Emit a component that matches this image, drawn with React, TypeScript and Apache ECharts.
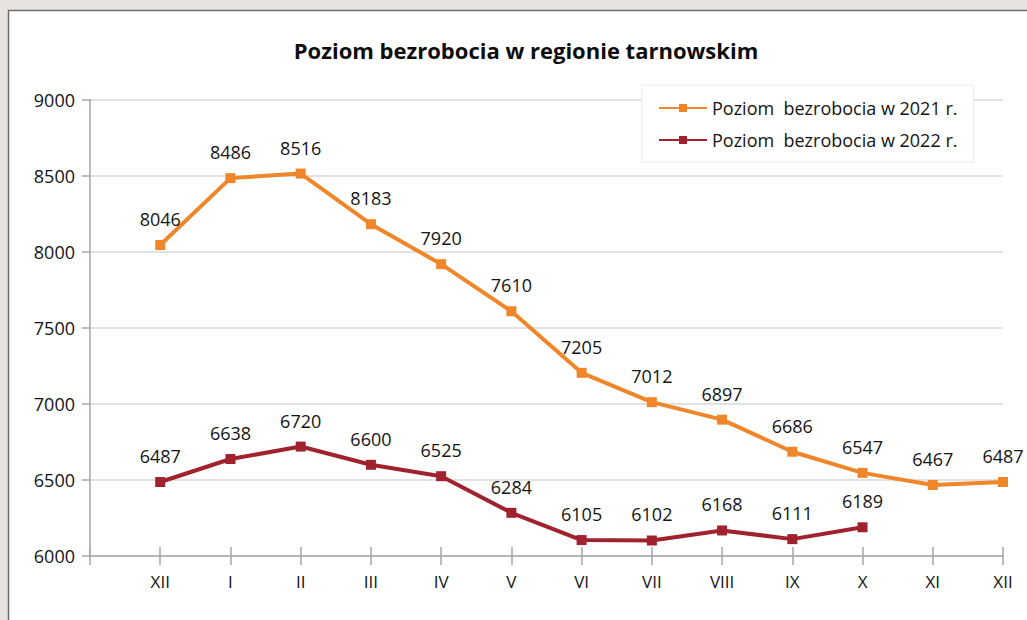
import React, { useEffect, useRef } from "react";
import * as echarts from "echarts";

const categories = ["", "XII", "I", "II", "III", "IV", "V", "VI", "VII", "VIII", "IX", "X", "XI", "XII"];
const values2021 = [null, 8046, 8486, 8516, 8183, 7920, 7610, 7205, 7012, 6897, 6686, 6547, 6467, 6487];
const values2022 = [null, 6487, 6638, 6720, 6600, 6525, 6284, 6105, 6102, 6168, 6111, 6189, null, null];
const seriesNames = ["Poziom  bezrobocia w 2021 r.", "Poziom  bezrobocia w 2022 r."];
const titleText = "Poziom bezrobocia w regionie tarnowskim";

const FONT = "'Open Sans', sans-serif";

export default function App() {
  const ref = useRef<HTMLDivElement>(null);
  useEffect(() => {
    if (!ref.current) return;
    const chart = echarts.init(ref.current, null, { renderer: "svg" });
    const labelStyle = {
      show: true,
      position: "top" as const,
      distance: 12,
      fontFamily: FONT,
      fontSize: 18,
      color: "#141414",
    };
    chart.setOption({
      animation: false,
      backgroundColor: "#e7e4e0",
      textStyle: { fontFamily: FONT },
      graphic: [
        {
          type: "rect",
          z: -10,
          silent: true,
          shape: { x: 8.5, y: 10.5, width: 1040, height: 640 },
          style: { fill: "#ffffff", stroke: "#6b6b6b", lineWidth: 1.5 },
        },
      ],
      title: {
        text: titleText,
        left: 521,
        textAlign: "center",
        top: 34,
        textStyle: { fontFamily: FONT, fontSize: 22, fontWeight: "bold", color: "#0d0d0d" },
      },
      legend: {
        orient: "vertical",
        left: 642,
        top: 85,
        padding: [14, 16, 13, 16],
        itemGap: 14,
        itemWidth: 48,
        itemHeight: 10,
        backgroundColor: "#ffffff",
        borderColor: "#ececec",
        borderWidth: 1,
        textStyle: { fontFamily: FONT, fontSize: 18, color: "#141414" },
        data: seriesNames,
      },
      grid: { left: 90, right: 24, top: 100, bottom: 64, containLabel: false },
      xAxis: [
        {
          type: "category",
          data: categories,
          boundaryGap: false,
          axisLine: { lineStyle: { color: "#a6a6a6", width: 1.5 } },
          axisTick: { show: true, inside: false, length: 9, lineStyle: { color: "#a6a6a6", width: 1.5 } },
          axisLabel: { margin: 17, fontFamily: FONT, fontSize: 17, color: "#141414" },
          splitLine: { show: false },
        },
        {
          type: "category",
          data: categories,
          position: "bottom",
          boundaryGap: false,
          axisLine: { show: false },
          axisTick: { show: true, inside: true, length: 9, lineStyle: { color: "#a6a6a6", width: 1.5 } },
          axisLabel: { show: false },
          splitLine: { show: false },
        },
      ],
      yAxis: {
        type: "value",
        min: 6000,
        max: 9000,
        interval: 500,
        axisLine: { show: true, lineStyle: { color: "#a6a6a6", width: 1.5 } },
        axisTick: { show: true, length: 8, lineStyle: { color: "#a6a6a6", width: 1.5 } },
        axisLabel: {
          margin: 15,
          fontFamily: FONT,
          fontSize: 18,
          color: "#141414",
          formatter: (v: number) => String(v),
        },
        splitLine: { show: true, lineStyle: { color: "#d9d9d9", width: 1.5 } },
      },
      series: [
        {
          name: seriesNames[0],
          type: "line",
          data: values2021,
          symbol: "rect",
          symbolSize: 10,
          lineStyle: { color: "#f0862a", width: 4 },
          itemStyle: { color: "#f0862a" },
          label: labelStyle,
          z: 3,
        },
        {
          name: seriesNames[1],
          type: "line",
          data: values2022,
          symbol: "rect",
          symbolSize: 10,
          lineStyle: { color: "#a0222e", width: 4 },
          itemStyle: { color: "#a0222e" },
          label: labelStyle,
          z: 3,
        },
      ],
    });
    return () => chart.dispose();
  }, []);
  return (
    <div
      ref={ref}
      style={{ position: "fixed", left: 0, top: 0, width: 1027, height: 620 }}
    />
  );
}
